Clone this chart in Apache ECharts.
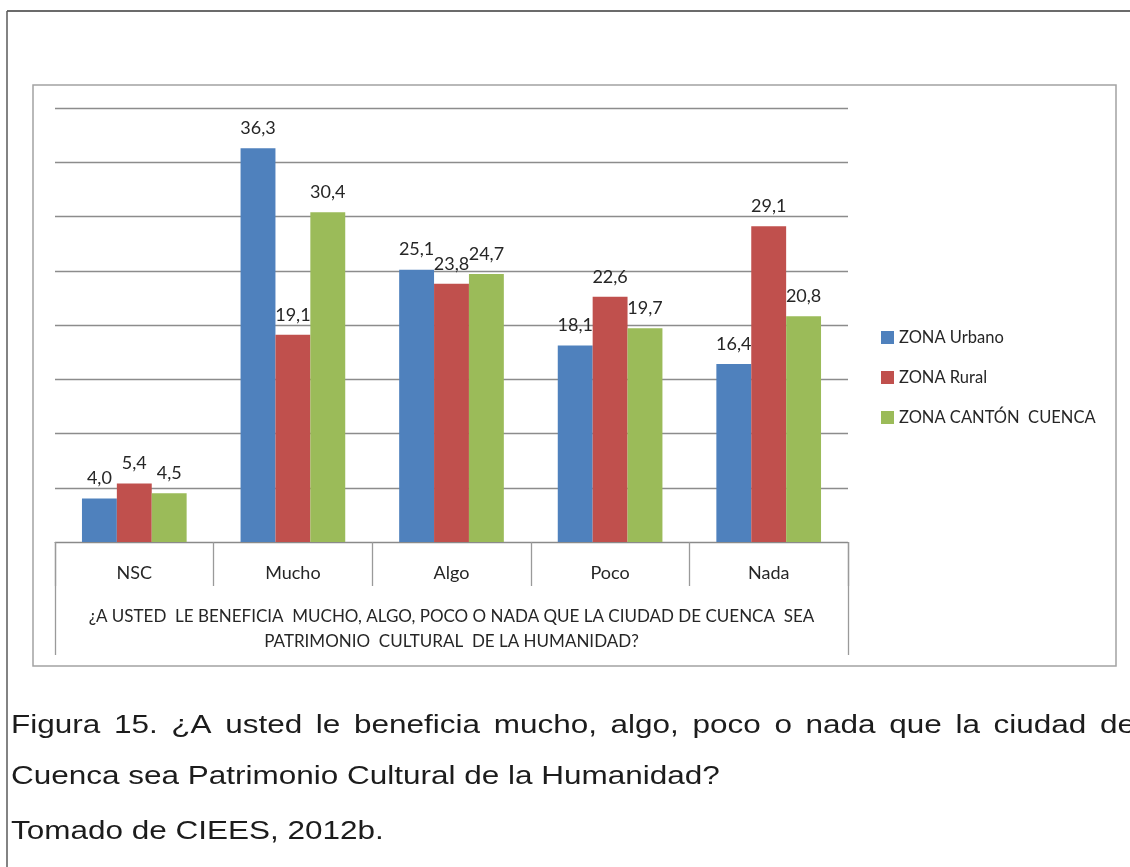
<!DOCTYPE html>
<html>
<head>
<meta charset="utf-8">
<script src="https://cdn.jsdelivr.net/npm/echarts@6/dist/echarts.min.js"></script>
<style>
  html, body { margin: 0; padding: 0; background: #ffffff; }
  #chart { width: 1130px; height: 867px; }
</style>
</head>
<body>
<div id="chart"></div>
<script>
// Survey answers by zone (percent)
const categories = ['NSC', 'Mucho', 'Algo', 'Poco', 'Nada'];
const seriesNames = ['ZONA Urbano', 'ZONA Rural', 'ZONA CANTÓN  CUENCA'];
const urbano = [4.0, 36.3, 25.1, 18.1, 16.4];
const rural = [5.4, 19.1, 23.8, 22.6, 29.1];
const canton = [4.5, 30.4, 24.7, 19.7, 20.8];
const seriesColors = ['#4F81BD', '#C0504D', '#9BBB59'];

// Question shown as the outer level of the category axis
const questionLabel = ['¿A USTED  LE BENEFICIA  MUCHO, ALGO, POCO O NADA QUE LA CIUDAD DE CUENCA  SEA\nPATRIMONIO  CULTURAL  DE LA HUMANIDAD?'];

// Value axis scale
const yMin = 0, yMax = 40, yStep = 5;

// Figure caption below the chart
const captionLines = [
  'Figura 15. ¿A usted le beneficia mucho, algo, poco o nada que la ciudad de',
  'Cuenca sea Patrimonio Cultural de la Humanidad?',
  'Tomado de CIEES, 2012b.'
];

const UI_FONT = 'Lato, "Open Sans", sans-serif';
const CAP_FONT = '"Liberation Sans", Arial, sans-serif';
const GRID = { left: 55, top: 108, width: 793, height: 434 };

const fmt = v => v.toFixed(1).replace('.', ',');

const chart = echarts.init(document.getElementById('chart'), null, { renderer: 'canvas' });

// Caption: stretched Arial-like text, first line justified
const capSize = 25.6, capScaleX = 1.23;
const measureCtx = document.createElement('canvas').getContext('2d');
measureCtx.font = capSize + 'px ' + CAP_FONT;
const capLeft = 11, capRight = 1135;
const capY = [726, 777, 832];
const captionGraphics = [];
captionLines.forEach((line, i) => {
  if (i === 0) {
    const words = line.split(' ');
    const widths = words.map(w => measureCtx.measureText(w).width * capScaleX);
    const total = widths.reduce((a, b) => a + b, 0);
    const gap = (capRight - capLeft - total) / (words.length - 1);
    let x = capLeft;
    words.forEach((w, k) => {
      captionGraphics.push({
        type: 'text', x: x, y: capY[i], scaleX: capScaleX, silent: true,
        style: { text: w, x: 0, y: 0, font: capSize + 'px ' + CAP_FONT, fill: '#1c1c1c', verticalAlign: 'middle', align: 'left' }
      });
      x += widths[k] + gap;
    });
  } else {
    captionGraphics.push({
      type: 'text', x: capLeft, y: capY[i], scaleX: capScaleX, silent: true,
      style: { text: line, x: 0, y: 0, font: capSize + 'px ' + CAP_FONT, fill: '#1c1c1c', verticalAlign: 'middle', align: 'left' }
    });
  }
});

const labelStyle = {
  show: true, position: 'top', distance: 11,
  fontFamily: UI_FONT, fontSize: 18, color: '#262626',
  formatter: p => fmt(p.value)
};

const makeSeries = (name, data, color) => ({
  name: name, type: 'bar', data: data,
  barGap: '0%', barCategoryGap: '34%',
  itemStyle: { color: color },
  label: labelStyle,
  emphasis: { disabled: true }
});

chart.setOption({
  backgroundColor: '#ffffff',
  animation: false,
  grid: { left: GRID.left, top: GRID.top, width: GRID.width, height: GRID.height, containLabel: false },
  legend: {
    orient: 'vertical', left: 876, top: 323,
    itemWidth: 13, itemHeight: 13, itemGap: 21, icon: 'rect',
    textStyle: { fontFamily: UI_FONT, fontSize: 16.5, color: '#262626', lineHeight: 19 },
    data: seriesNames
  },
  xAxis: [
    {
      type: 'category', data: categories, position: 'bottom',
      axisLine: { show: true, lineStyle: { color: '#8a8a8a', width: 1 } },
      axisTick: { show: true, interval: 0, length: 44, lineStyle: { color: '#9a9a9a', width: 1.3 } },
      axisLabel: { interval: 0, margin: 22, fontFamily: UI_FONT, fontSize: 18, color: '#262626' },
      splitLine: { show: false }
    },
    {
      type: 'category', data: questionLabel, position: 'bottom', offset: 0,
      axisLine: { show: false },
      axisTick: { show: true, interval: 0, length: 113, lineStyle: { color: '#9a9a9a', width: 1.3 } },
      axisLabel: { interval: 0, margin: 62, fontFamily: UI_FONT, fontSize: 17, lineHeight: 25, color: '#262626', align: 'center' },
      splitLine: { show: false }
    }
  ],
  yAxis: {
    type: 'value', min: yMin, max: yMax, interval: yStep,
    axisLine: { show: false }, axisTick: { show: false }, axisLabel: { show: false },
    splitLine: { show: true, lineStyle: { color: '#8c8c8c', width: 1.3 } }
  },
  series: [
    makeSeries(seriesNames[0], urbano, seriesColors[0]),
    makeSeries(seriesNames[1], rural, seriesColors[1]),
    makeSeries(seriesNames[2], canton, seriesColors[2])
  ],
  graphic: [
    // page border (top and left rules)
    { type: 'line', silent: true, shape: { x1: 7, y1: 11, x2: 1130, y2: 11 }, style: { stroke: '#3a3a3a', lineWidth: 1.5 } },
    { type: 'line', silent: true, shape: { x1: 7, y1: 11, x2: 7, y2: 867 }, style: { stroke: '#5a5a5a', lineWidth: 1.5 } },
    // chart area frame
    { type: 'rect', silent: true, shape: { x: 33, y: 85, width: 1083, height: 581 }, style: { fill: 'none', stroke: '#a3a3a3', lineWidth: 1.5 } }
  ].concat(captionGraphics)
});
</script>
</body>
</html>
